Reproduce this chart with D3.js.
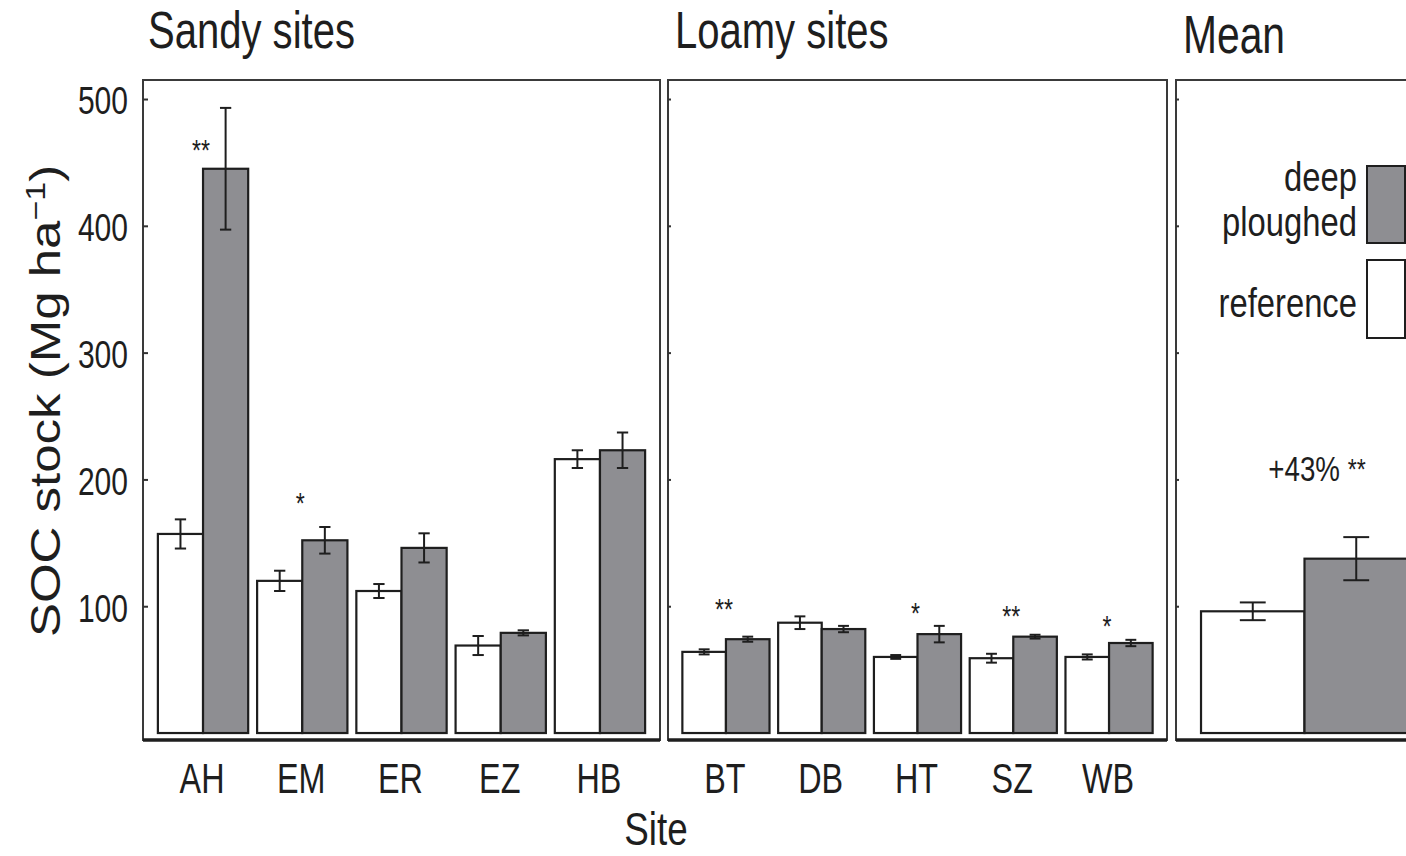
<!DOCTYPE html>
<html>
<head>
<meta charset="utf-8">
<script src="https://cdn.jsdelivr.net/npm/d3@7"></script>
<style>
  html, body { margin: 0; padding: 0; background: #fff; overflow: hidden; }
  svg { display: block; font-family: "Liberation Sans", Arial, Helvetica, sans-serif; }
</style>
</head>
<body>
<svg id="chart" width="1406" height="856"></svg>
<script>
// Soil organic carbon stock (Mg ha-1): reference vs deep ploughed soils, mean ± SE

// Sandy sites
const sandySites   = ["AH", "EM", "ER", "EZ", "HB"];
const sandyRef     = [157, 120, 112, 69, 216];
const sandyRefSE   = [11.5, 8, 5.5, 7.5, 7];
const sandyDeep    = [445, 152, 146, 79, 223];
const sandyDeepSE  = [48, 10.5, 11.5, 2, 14];
const sandySig     = ["**", "*", "", "", ""];

// Loamy sites
const loamySites   = ["BT", "DB", "HT", "SZ", "WB"];
const loamyRef     = [64, 87, 60, 59, 60];
const loamyRefSE   = [2, 5, 1.5, 3.5, 2];
const loamyDeep    = [74, 82, 78, 76, 71];
const loamyDeepSE  = [2, 2.5, 6.5, 1.5, 2.5];
const loamySig     = ["**", "", "*", "**", "*"];

// Mean over all sites
const meanSites    = ["Mean"];
const meanRef      = [96];
const meanRefSE    = [7];
const meanDeep     = [137.5];
const meanDeepSE   = [17];
const meanSig      = ["**"];

const yTicks = [100, 200, 300, 400, 500];
const treatments = ["reference", "deep ploughed"];

// ---------------------------------------------------------------------------
const svg = d3.select("#chart");
const INK = "#1e1e1e";
const DEEP_FILL = "#8e8e92";

const y = d3.scaleLinear().domain([-5.5, 515]).range([740, 80]);

// text drawn with a narrow horizontal scale (condensed look)
function label(parent, str, x, yy, size, opts = {}) {
  const sx = opts.sx ?? 0.77;
  const g = parent.append("g")
    .attr("transform", `translate(${x},${yy}) scale(${sx},1)` + (opts.rotate ? ` rotate(${opts.rotate})` : ""));
  return g.append("text")
    .attr("text-anchor", opts.anchor || "start")
    .attr("font-size", size)
    .attr("fill", INK)
    .text(str);
}

// where the significance asterisks sit (Mg ha-1 level of the glyph centre)
const sigLevels = {
  AH: 465, EM: 187, BT: 103, HT: 100, SZ: 98, WB: 90
};

function drawPanel(cfg) {
  const { x0, x1, sites, ref, refSE, deep, deepSE, sig, title, titleY, showTickLabels, outerPad } = cfg;
  const g = svg.append("g");

  const xGroup = d3.scaleBand().domain(sites).range([x0, x1])
    .paddingInner(0.09).paddingOuter(outerPad);
  const xInner = d3.scaleBand().domain(treatments).range([0, xGroup.bandwidth()]);

  const rows = sites.map((s, i) => ({
    site: s,
    vals: [
      { t: "reference", v: ref[i], se: refSE[i] },
      { t: "deep ploughed", v: deep[i], se: deepSE[i] }
    ],
    sig: sig[i]
  }));

  // bars
  const grp = g.selectAll("g.site").data(rows).join("g")
    .attr("class", "site")
    .attr("transform", d => `translate(${xGroup(d.site)},0)`);

  grp.selectAll("rect").data(d => d.vals).join("rect")
    .attr("x", d => xInner(d.t))
    .attr("width", xInner.bandwidth())
    .attr("y", d => y(d.v))
    .attr("height", d => y(0) - y(d.v))
    .attr("fill", d => d.t === "reference" ? "#ffffff" : DEEP_FILL)
    .attr("stroke", INK)
    .attr("stroke-width", 2.2);

  // error bars
  const capW = xInner.bandwidth() * 0.25;
  const eb = grp.selectAll("g.err").data(d => d.vals).join("g")
    .attr("class", "err")
    .attr("stroke", INK).attr("stroke-width", 2).attr("fill", "none");
  const cx = d => xInner(d.t) + xInner.bandwidth() / 2;
  eb.append("line").attr("x1", cx).attr("x2", cx)
    .attr("y1", d => y(d.v + d.se)).attr("y2", d => y(d.v - d.se));
  eb.append("line").attr("x1", d => cx(d) - capW / 2).attr("x2", d => cx(d) + capW / 2)
    .attr("y1", d => y(d.v + d.se)).attr("y2", d => y(d.v + d.se));
  eb.append("line").attr("x1", d => cx(d) - capW / 2).attr("x2", d => cx(d) + capW / 2)
    .attr("y1", d => y(d.v - d.se)).attr("y2", d => y(d.v - d.se));

  // significance marks
  rows.forEach(r => {
    if (r.sig && sigLevels[r.site] !== undefined) {
      const xc = xGroup(r.site) + xGroup.bandwidth() / 2 - 2;
      label(g, r.sig, xc, y(sigLevels[r.site]) + 17, 30, { anchor: "middle" });
    }
  });

  // frame
  g.append("rect")
    .attr("x", x0).attr("y", 80)
    .attr("width", cfg.frameRight - x0).attr("height", 660)
    .attr("fill", "none").attr("stroke", "#3a3a3a").attr("stroke-width", 2);
  g.append("line")
    .attr("x1", x0).attr("x2", cfg.frameRight)
    .attr("y1", 740).attr("y2", 740)
    .attr("stroke", INK).attr("stroke-width", 3.5);

  // y ticks (inward)
  const yAxis = d3.axisLeft(y).tickValues(yTicks)
    .tickSize(showTickLabels ? -5 : -3)
    .tickPadding(15)
    .tickFormat(showTickLabels ? d3.format("d") : () => "");
  const ya = g.append("g").attr("transform", `translate(${x0},0)`).call(yAxis);
  ya.select(".domain").remove();
  ya.selectAll(".tick line").attr("stroke", "#333").attr("stroke-width", 2);
  ya.selectAll(".tick text")
    .attr("x", 0).attr("dy", "0.38em")
    .attr("transform", "translate(-15,0) scale(0.77,1)")
    .attr("font-size", 39).attr("font-family", null).attr("fill", INK);

  // x labels
  if (cfg.showSiteLabels) {
    const xAxis = d3.axisBottom(xGroup).tickSize(0);
    const xa = g.append("g").attr("transform", "translate(0,740)").call(xAxis);
    xa.select(".domain").remove();
    xa.selectAll(".tick text")
      .attr("y", 0).attr("dy", 0)
      .attr("transform", "translate(-1,53) scale(0.77,1)")
      .attr("font-size", 42).attr("font-family", null).attr("fill", INK);
  }

  // panel title
  label(svg, title, x0 + cfg.titleDx, titleY, cfg.titleSize);

  return { g, xGroup, xInner };
}

drawPanel({
  x0: 143, x1: 660, frameRight: 660, outerPad: 0.15,
  sites: sandySites, ref: sandyRef, refSE: sandyRefSE, deep: sandyDeep, deepSE: sandyDeepSE,
  sig: sandySig, title: "Sandy sites", titleY: 48, titleDx: 5, titleSize: 52,
  showTickLabels: true, showSiteLabels: true
});

drawPanel({
  x0: 668, x1: 1167, frameRight: 1167, outerPad: 0.15,
  sites: loamySites, ref: loamyRef, refSE: loamyRefSE, deep: loamyDeep, deepSE: loamyDeepSE,
  sig: loamySig, title: "Loamy sites", titleY: 48, titleDx: 7, titleSize: 52,
  showTickLabels: false, showSiteLabels: true
});

drawPanel({
  x0: 1176, x1: 1433, frameRight: 1433, outerPad: 0.11,
  sites: meanSites, ref: meanRef, refSE: meanRefSE, deep: meanDeep, deepSE: meanDeepSE,
  sig: [""], title: "Mean", titleY: 53, titleDx: 7, titleSize: 53,
  showTickLabels: false, showSiteLabels: false
});

// relative change of the mean, with its significance
const pct = Math.round((meanDeep[0] / meanRef[0] - 1) * 100);
const mt = label(svg, "", 1317, 481, 36, { anchor: "middle" });
mt.append("tspan").text(`+${pct}% `);
mt.append("tspan").attr("font-size", 30).attr("dy", -2).text(meanSig[0]);

// legend
const legend = svg.append("g");
const legendItems = [
  { name: "deep ploughed", lines: ["deep", "ploughed"], fill: DEEP_FILL, top: 166, h: 77, base: [191, 236] },
  { name: "reference", lines: ["reference"], fill: "#ffffff", top: 260, h: 78, base: [317] }
];
legendItems.forEach(it => {
  legend.append("rect")
    .attr("x", 1367).attr("y", it.top).attr("width", 38).attr("height", it.h)
    .attr("fill", it.fill).attr("stroke", INK).attr("stroke-width", 2);
  it.lines.forEach((ln, j) => label(legend, ln, 1357, it.base[j], 40, { anchor: "end", sx: 0.82 }));
});

// axis titles
const yt = label(svg, "", 60, 401, 51, { anchor: "middle", rotate: -90, sx: 0.82 });
yt.append("tspan").text("SOC stock (Mg ha");
yt.append("tspan").attr("font-size", 34).attr("dy", -18).text("\u22121");
yt.append("tspan").attr("dy", 18).text(")");

label(svg, "Site", 656, 845, 46, { anchor: "middle", sx: 0.8 });
</script>
</body>
</html>
